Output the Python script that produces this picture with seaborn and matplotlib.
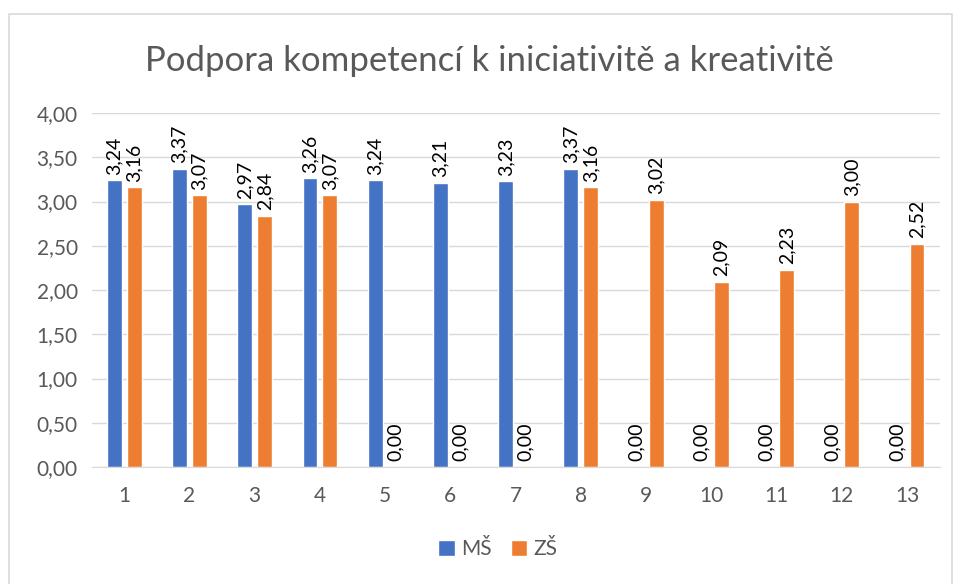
import numpy as np
import pandas as pd
import seaborn as sns
import matplotlib.pyplot as plt
from matplotlib.patches import Rectangle

# values
categories = [str(i) for i in range(1, 14)]
ms_values = [3.24, 3.37, 2.97, 3.26, 3.24, 3.21, 3.23, 3.37, 0, 0, 0, 0, 0]
zs_values = [3.16, 3.07, 2.84, 3.07, 0, 0, 0, 3.16, 3.02, 2.09, 2.23, 3.00, 2.52]
series = ["MŠ", "ZŠ"]
colors = ["#4472C4", "#ED7D31"]
title = "Podpora kompetencí k iniciativitě a kreativitě"

df = pd.DataFrame({
    "cat": categories * 2,
    "val": ms_values + zs_values,
    "series": [series[0]] * len(categories) + [series[1]] * len(categories),
})

sns.set_style("white")
plt.rcParams['font.family'] = ['Lato', 'DejaVu Sans']
grey = "#595959"

fig = plt.figure(figsize=(9.54, 5.84), dpi=100)
ax = fig.add_axes([0.096, 0.2003, 0.889, 0.6062])

sns.barplot(data=df, x="cat", y="val", hue="series", palette=colors,
            width=0.61, gap=0.25, ax=ax, legend=True, saturation=1)

for cont in ax.containers:
    labels = ["{:.2f}".format(b.get_height()).replace(".", ",") for b in cont]
    ax.bar_label(cont, labels=labels, rotation=90, padding=4, fontsize=14, color="black")

ax.set_ylim(0, 4)
ax.set_yticks(np.arange(0, 4.01, 0.5))
ax.set_yticklabels(["{:.2f}".format(v).replace(".", ",") for v in np.arange(0, 4.01, 0.5)])
ax.set_xlim(-0.5, 12.5)
ax.yaxis.grid(True, color="#D9D9D9", linewidth=1)
ax.set_axisbelow(True)
ax.tick_params(axis="both", colors=grey, labelsize=15, length=0)
ax.tick_params(axis="x", pad=14)
ax.tick_params(axis="y", pad=10)
for side in ["top", "right", "left"]:
    ax.spines[side].set_visible(False)
ax.spines["bottom"].set_color("#D9D9D9")
ax.set_xlabel("")
ax.set_ylabel("")

fig.text(0.513, 0.895, title, ha="center", va="center", fontsize=25, color=grey)

handles, labs = ax.get_legend_handles_labels()
ax.legend_.remove()
fig.legend(handles, labs, loc="center", bbox_to_anchor=(0.522, 0.06), ncol=2, frameon=False,
           fontsize=15, labelcolor=grey, handlelength=0.8, handleheight=0.8,
           handletextpad=0.3, columnspacing=0.9)

fig.patches.append(Rectangle((9 / 954, -0.01), 943 / 954, 1 - 14 / 584 + 0.01,
                             transform=fig.transFigure, fill=False,
                             edgecolor="#D9D9D9", linewidth=1.2))

plt.savefig("out.png", dpi=100)
plt.close()
